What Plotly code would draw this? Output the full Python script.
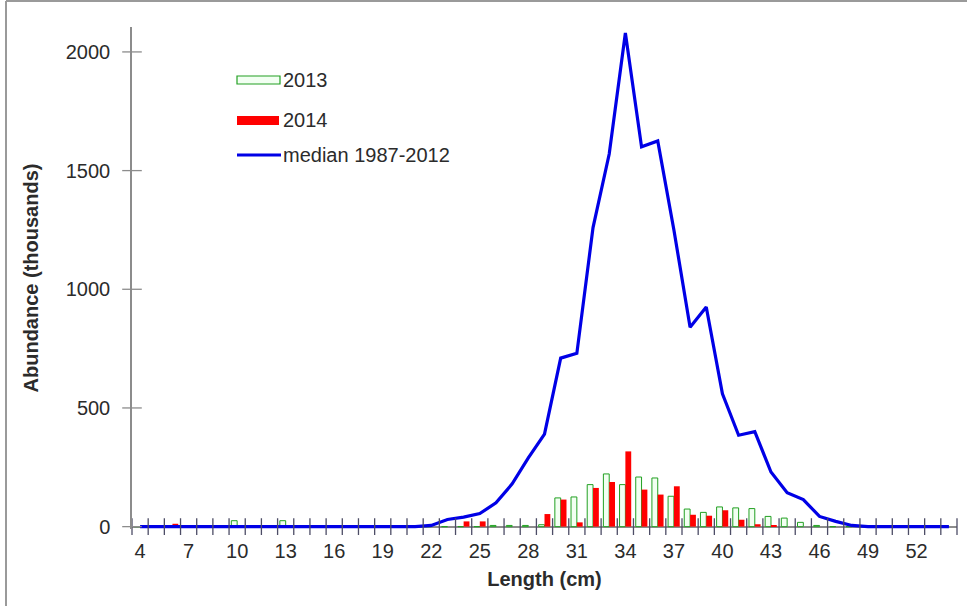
import plotly.graph_objects as go

# ---- data ----
lengths = list(range(4, 55))  # 4 .. 54 cm

abund_2013 = [0, 0, 0, 0, 0, 0, 25, 0, 0, 25, 0, 0, 0, 0, 0, 0, 0, 0, 0, 0, 0, 0,
              5, 5, 5, 8, 121, 125, 177, 222, 177, 209, 205, 128, 74, 60, 83, 79,
              76, 43, 36, 18, 5, 0, 0, 0, 0, 0, 0, 0, 0]
abund_2014 = [0, 0, 12, 0, 0, 0, 0, 0, 0, 0, 0, 0, 0, 0, 0, 0, 0, 0, 0, 0, 22, 22,
              0, 0, 0, 53, 114, 18, 163, 188, 317, 156, 135, 170, 50, 46, 69, 29,
              10, 5, 0, 0, 0, 0, 0, 0, 0, 0, 0, 0, 0]
median_87_12 = [0, 0, 0, 0, 0, 0, 0, 0, 0, 0, 0, 0, 0, 0, 0, 0, 0, 0, 5, 30, 40, 55,
                100, 180, 290, 390, 710, 730, 1260, 1570, 2080, 1600, 1625, 1250,
                840, 925, 560, 385, 400, 230, 143, 114, 43, 22, 5, 0, 0, 0, 0, 0, 0]

xtick_vals = list(range(4, 53, 3))
xtick_text = [str(v) for v in xtick_vals]
ytick_vals = [0, 500, 1000, 1500, 2000]
ytick_text = [str(v) for v in ytick_vals]

legend_labels = ["2013", "2014", "median 1987-2012"]

# ---- style ----
FONT = "Liberation Sans, Arial, sans-serif"
FS = 20
TXT = "#2b2b2b"
AXC = "#8c8c8c"
GREEN = "#22a022"
RED = "#ff0000"
BLUE = "#0000e6"

W, H = 967, 606
ML, MR, MT, MB = 132, 10, 27, 77
PW, PH = W - ML - MR, H - MT - MB


def px(xp):
    return (xp - ML) / PW


def py(yp):
    return (H - MB - yp) / PH


boundaries = [v - 0.5 for v in lengths] + [lengths[-1] + 0.5]
x_left = boundaries[0]

fig = go.Figure()

fig.add_trace(go.Bar(x=lengths, y=abund_2013, name=legend_labels[0],
                     marker=dict(color="#f2fff2", line=dict(color=GREEN, width=1)),
                     showlegend=False))
fig.add_trace(go.Bar(x=lengths, y=abund_2014, name=legend_labels[1],
                     marker=dict(color=RED, line=dict(width=0)),
                     showlegend=False))
fig.add_trace(go.Scatter(x=lengths, y=median_87_12, name=legend_labels[2],
                         mode="lines", line=dict(color=BLUE, width=3.2),
                         showlegend=False))

# tick marks crossing the axes
fig.add_trace(go.Scatter(x=boundaries, y=[0] * len(boundaries), mode="markers",
                         marker=dict(symbol="line-ns", size=12,
                                     line=dict(color="#4d4d66", width=1.3)),
                         cliponaxis=False, showlegend=False, hoverinfo="skip"))
fig.add_trace(go.Scatter(x=[x_left] * len(ytick_vals), y=ytick_vals, mode="markers",
                         marker=dict(symbol="line-ew", size=14,
                                     line=dict(color=AXC, width=1.3)),
                         cliponaxis=False, showlegend=False, hoverinfo="skip"))

# custom legend keys
shapes = [
    dict(type="rect", xref="paper", yref="paper", x0=px(237), x1=px(280),
         y0=py(84), y1=py(76), line=dict(color=GREEN, width=1.2), fillcolor="#f2fff2"),
    dict(type="rect", xref="paper", yref="paper", x0=px(237), x1=px(279),
         y0=py(125), y1=py(116), line=dict(width=0), fillcolor=RED),
    dict(type="line", xref="paper", yref="paper", x0=px(237), x1=px(281),
         y0=py(155), y1=py(155), line=dict(color=BLUE, width=3)),
    # outer frame (left and top)
    dict(type="line", xref="paper", yref="paper", x0=px(6), x1=px(6),
         y0=py(1), y1=py(H), line=dict(color="#9a9a9a", width=2)),
    dict(type="line", xref="paper", yref="paper", x0=px(6), x1=px(W),
         y0=py(1), y1=py(1), line=dict(color="#9a9a9a", width=2)),
]
annotations = []
for lab, yy in zip(legend_labels, [80, 120, 155]):
    annotations.append(dict(text=lab, xref="paper", yref="paper", x=px(281), y=py(yy),
                            xanchor="left", yanchor="middle", showarrow=False,
                            font=dict(family=FONT, size=FS, color=TXT)))

fig.update_layout(
    width=W, height=H,
    margin=dict(l=ML, r=MR, t=MT, b=MB),
    paper_bgcolor="white", plot_bgcolor="white",
    barmode="group", bargap=0.28, bargroupgap=0,
    font=dict(family=FONT, size=FS, color=TXT),
    shapes=shapes, annotations=annotations,
    xaxis=dict(range=[boundaries[0], boundaries[-1]], tickmode="array",
               tickvals=xtick_vals, ticktext=xtick_text, ticks="",
               showgrid=False, zeroline=False, showline=False,
               ticklabelstandoff=8,
               tickfont=dict(family=FONT, size=FS, color=TXT),
               title=dict(text="<b>Length (cm)</b>", standoff=10,
                          font=dict(family=FONT, size=FS, color=TXT))),
    yaxis=dict(range=[-10, 2105], tickmode="array", tickvals=ytick_vals,
               ticktext=ytick_text, ticks="", showgrid=False,
               zeroline=True, zerolinecolor=AXC, zerolinewidth=1.5,
               showline=True, linecolor=AXC, linewidth=1.5,
               ticklabelstandoff=16,
               tickfont=dict(family=FONT, size=FS, color=TXT),
               title=dict(text="<b>Abundance (thousands)</b>", standoff=22,
                          font=dict(family=FONT, size=FS, color=TXT))),
)

fig.write_html("out.html")
